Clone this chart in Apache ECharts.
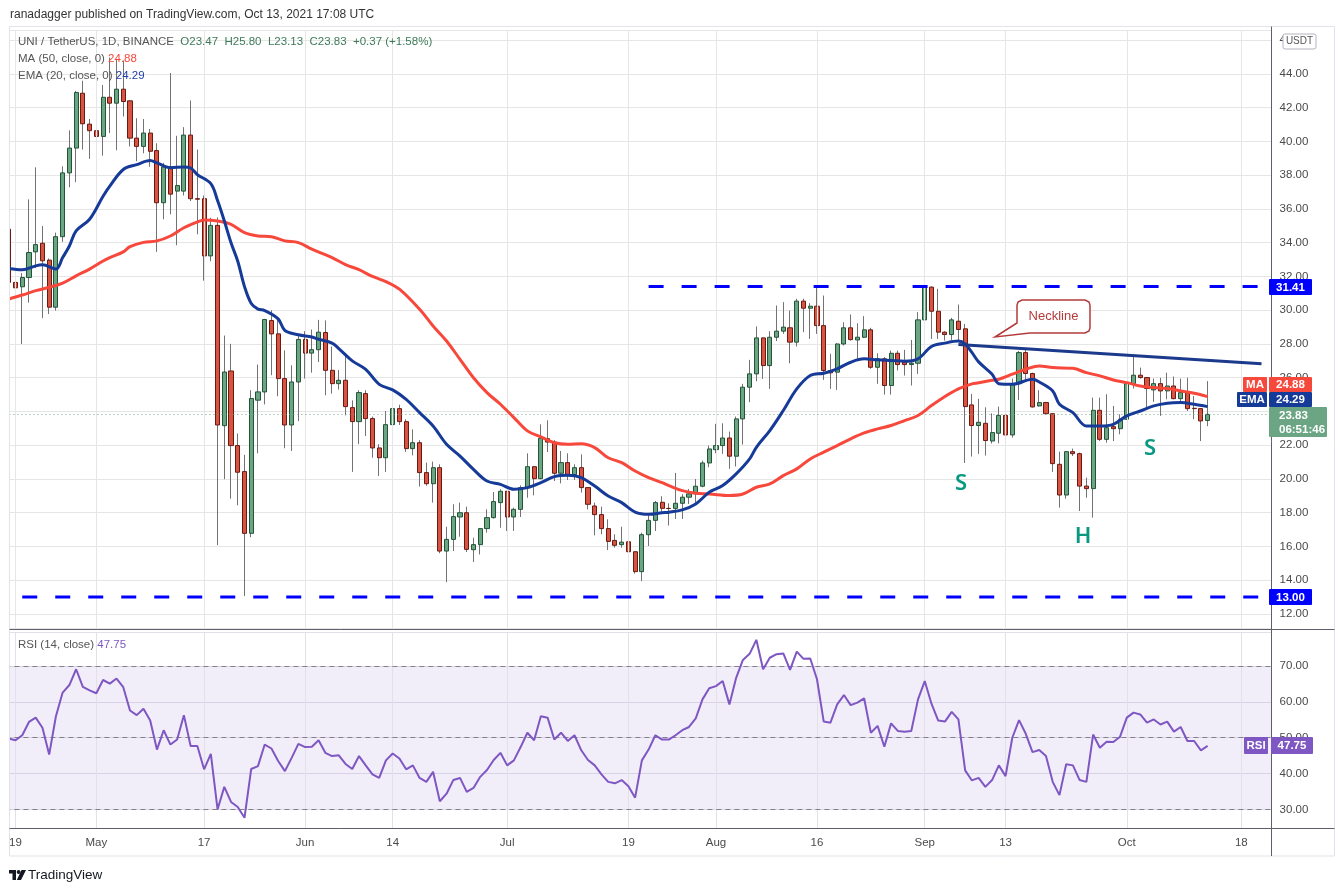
<!DOCTYPE html>
<html>
<head>
<meta charset="utf-8">
<title>UNI / TetherUS 1D</title>
<script src="https://cdn.jsdelivr.net/npm/echarts@6.0.0/dist/echarts.min.js"></script>
<style>
html, body { margin: 0; padding: 0; background: #fff; }
#chart { width: 1341px; height: 892px; }
</style>
</head>
<body>
<div id="chart"></div>
<script>
// daily candles from Apr 18 2021, [open, high, low, close]
var candles = [
    [34.80,35.30,30.50,31.65],[31.65,32.80,29.10,31.33],[31.39,32.20,28.00,31.94],[31.94,36.57,30.45,33.42],[33.46,38.47,32.50,33.89],
    [33.97,34.99,29.53,32.93],[32.97,33.07,29.78,30.18],[30.18,34.60,29.98,34.36],[34.36,38.53,34.05,38.14],[38.14,40.66,37.29,39.61],
    [39.61,43.00,37.59,42.90],[42.86,43.60,39.52,41.05],[41.03,41.33,38.97,40.64],[40.64,40.93,39.22,40.30],[40.30,43.35,39.16,42.62],
    [42.62,44.97,40.50,42.27],[42.27,44.90,39.48,43.10],[43.10,44.80,41.48,42.37],[42.41,42.43,39.71,40.20],[40.20,41.38,38.83,39.71],
    [39.71,41.33,39.30,40.50],[40.50,40.74,38.50,39.42],[39.46,39.90,33.46,36.37],[36.37,38.73,35.39,38.49],[38.49,44.06,35.68,36.88],
    [37.06,40.34,33.85,37.39],[37.06,40.85,36.80,40.38],[40.38,42.43,36.47,36.61],[36.61,39.52,34.50,36.58],[36.61,36.80,31.75,33.22],
    [33.22,35.48,32.90,35.03],[35.03,35.50,16.08,23.20],[23.16,28.50,19.99,26.34],[26.40,28.01,18.83,21.98],[21.98,22.70,18.44,20.40],
    [20.44,21.43,13.07,16.78],[16.78,25.26,16.55,24.77],[24.67,26.78,21.52,25.16],[25.16,29.49,24.42,29.45],[29.39,30.00,26.15,28.60],
    [28.60,29.49,24.90,25.95],[25.95,27.62,21.82,23.20],[23.20,26.74,21.66,25.75],[25.75,28.47,23.43,28.27],[28.27,28.76,25.95,27.46],
    [27.46,28.86,26.30,27.66],[27.66,29.43,26.93,28.70],[28.68,29.40,24.96,26.44],[26.44,27.85,25.06,25.65],[25.65,26.46,25.30,25.85],
    [25.85,27.39,23.77,24.29],[24.23,24.66,20.42,23.40],[23.40,25.26,22.06,25.12],[25.06,25.26,22.55,23.58],[23.58,23.70,21.26,21.84],
    [21.84,22.06,20.18,21.26],[21.26,24.03,20.42,23.22],[23.22,24.72,23.00,24.17],[24.17,24.40,23.20,23.40],[23.40,23.54,21.60,21.80],
    [21.80,22.94,21.40,22.15],[22.15,22.30,19.55,20.38],[20.38,20.97,19.60,19.72],[19.72,21.03,18.60,20.67],[20.67,20.87,15.60,15.73],
    [15.73,17.17,13.89,16.42],[16.42,18.50,15.73,17.77],[17.75,18.60,16.58,18.00],[18.00,18.36,15.67,15.83],[15.81,16.52,15.08,16.11],
    [16.11,17.10,15.53,17.06],[17.06,18.20,16.82,17.71],[17.71,19.23,17.65,18.66],[18.60,19.39,17.11,19.27],[19.27,19.30,16.92,17.75],
    [17.75,18.30,16.92,18.20],[18.20,19.62,17.75,19.49],[19.49,21.52,18.89,20.73],[20.73,20.77,19.03,20.02],[20.02,23.24,19.98,22.41],
    [22.39,23.48,21.60,22.19],[22.19,22.30,19.88,20.34],[20.34,21.66,19.74,20.97],[20.97,21.52,19.94,20.26],[20.26,20.87,19.94,20.67],
    [20.67,21.46,19.19,19.49],[19.49,19.50,18.20,18.50],[18.40,18.60,16.66,17.89],[17.89,18.36,16.72,17.06],[17.06,17.61,15.79,16.30],
    [16.36,16.72,15.93,16.07],[16.11,17.17,15.93,16.26],[16.28,16.78,15.63,15.69],[15.69,15.70,14.39,14.51],[14.51,16.82,13.95,16.70],
    [16.70,17.91,16.03,17.55],[17.55,18.70,16.92,18.60],[18.62,18.98,17.97,18.26],[18.26,18.56,17.24,18.25],[18.26,20.36,17.63,18.56],
    [18.56,19.10,17.63,18.92],[18.92,19.41,18.52,19.12],[19.12,20.00,18.52,19.57],[19.57,21.09,19.51,20.95],[20.95,21.98,20.70,21.78],
    [21.74,23.27,21.53,21.98],[21.98,23.30,21.49,22.43],[22.43,22.81,20.60,21.35],[21.35,23.70,20.74,23.56],[23.56,25.64,22.04,25.44],
    [25.44,27.06,24.55,26.23],[26.23,29.04,25.79,28.36],[28.36,28.40,25.93,26.72],[26.72,28.76,25.34,28.40],[28.40,30.28,28.17,28.76],
    [28.76,30.48,28.60,29.00],[28.96,29.98,26.86,28.11],[28.11,30.68,27.85,30.54],[30.54,30.68,28.70,30.12],[30.12,30.42,28.30,30.24],
    [30.24,31.37,28.60,29.09],[29.09,30.87,25.87,26.43],[26.43,27.42,25.34,26.29],[26.33,28.05,25.28,28.00],[28.00,29.29,27.91,28.96],
    [28.96,29.75,28.20,28.26],[28.24,29.23,27.12,28.40],[28.40,29.65,28.35,28.84],[28.84,28.96,26.53,26.62],[26.62,27.45,25.64,27.12],
    [27.12,27.22,25.00,25.54],[25.54,27.61,25.00,27.45],[27.45,27.61,26.43,26.78],[26.92,27.65,26.13,26.78],[26.78,28.24,25.54,26.86],
    [26.86,29.89,26.23,29.43],[29.43,31.47,28.70,31.41],[31.37,31.41,28.30,29.94],[29.94,31.27,28.30,28.70],[28.70,28.76,28.20,28.56],
    [28.56,29.55,28.24,29.43],[29.35,30.34,28.11,28.86],[28.90,29.19,20.95,24.29],[24.39,25.04,21.33,23.17],[23.17,24.75,21.49,23.36],
    [23.30,24.25,21.39,22.28],[22.25,23.89,22.10,22.75],[22.71,24.29,22.11,23.77],[23.77,23.80,21.36,22.61],[22.61,25.95,22.45,25.65],
    [25.65,27.59,24.68,27.49],[27.49,27.73,25.75,26.25],[26.25,26.30,24.23,24.27],[24.33,25.26,24.29,24.53],[24.53,24.57,23.83,23.87],
    [23.87,23.90,20.42,20.91],[20.87,21.62,18.30,19.05],[19.05,21.66,18.83,21.62],[21.62,21.80,21.36,21.50],[21.50,21.56,18.10,19.58],
    [19.58,20.08,18.89,19.43],[19.43,24.82,17.71,24.07],[24.07,24.82,22.25,22.35],[22.35,25.02,22.15,23.04],[23.10,24.33,22.25,22.98],
    [22.98,23.83,22.65,23.54],[23.54,25.71,23.50,25.65],[25.65,27.29,25.36,26.15],[26.15,26.60,25.95,26.01],[26.01,26.05,24.23,25.36],
    [25.28,25.95,24.57,25.65],[25.65,26.00,23.74,25.22],[25.22,26.30,24.72,25.51],[25.51,26.07,24.72,24.76],[24.76,25.95,24.62,25.12],
    [25.12,26.00,24.03,24.17],[24.19,24.92,23.54,24.17],[24.17,24.20,22.25,23.44],[23.47,25.80,23.13,23.83]
];

// MA 50 and EMA 20, [day index, value]
var maPts = [
    [0,30.67],[2,30.90],[4,31.16],[6,31.36],[8,31.61],[10,32.04],[12,32.44],[14,32.92],[15,33.12],[17,33.46],
    [18,33.77],[20,34.02],[22,34.11],[24,34.40],[26,34.89],[28,35.23],[29,35.35],[31,35.29],[33,35.09],[35,34.60],
    [37,34.40],[39,34.36],[41,34.11],[43,34.01],[45,33.62],[48,33.12],[50,32.70],[52,32.40],[54,32.00],[56,31.70],
    [58,31.25],[61,30.06],[63,29.07],[65,28.18],[67,27.09],[69,26.00],[71,25.12],[73,24.43],[75,23.64],[77,22.85],
    [79,22.49],[81,22.15],[83,22.06],[85,22.09],[87,21.86],[89,21.26],[91,20.97],[93,20.47],[95,20.08],[97,19.78],
    [98,19.61],[100,19.31],[102,19.15],[104,19.11],[107,19.02],[109,19.11],[111,19.51],[113,19.71],[115,20.20],[117,20.60],
    [119,21.19],[121,21.59],[123,21.98],[125,22.38],[127,22.73],[129,22.97],[131,23.17],[133,23.46],[135,23.76],[137,24.35],
    [139,24.89],[141,25.34],[143,25.64],[144,25.70],[146,25.85],[147,25.91],[149,26.21],[151,26.50],[153,26.70],[155,26.60],
    [158,26.56],[160,26.30],[162,26.11],[164,25.87],[166,25.71],[168,25.51],[170,25.42],[172,25.36],[174,25.22],[176,25.08],
    [178,24.88]
];
var emaPts = [
    [0,32.48],[2,32.40],[4,32.63],[5,32.69],[7,32.44],[8,33.12],[9,33.81],[10,34.70],[12,35.39],[14,36.75],
    [15,37.35],[17,38.34],[19,38.63],[21,38.87],[22,38.73],[24,38.45],[26,38.49],[27,38.43],[28,38.04],[30,37.50],
    [31,36.50],[32,35.30],[33,34.00],[34,32.90],[35,31.40],[36,30.40],[37,30.07],[38,29.98],[40,29.49],[41,28.80],
    [43,28.55],[45,28.41],[46,28.28],[48,28.05],[49,27.73],[51,27.00],[53,26.50],[55,25.61],[57,25.28],[59,24.72],
    [61,23.93],[63,23.14],[65,22.06],[67,21.36],[69,20.57],[71,19.88],[73,19.68],[75,19.39],[77,19.49],[79,19.78],
    [81,20.14],[83,20.22],[85,20.08],[87,19.58],[89,18.99],[91,18.60],[93,18.04],[95,17.91],[97,18.00],[98,18.03],
    [100,18.17],[102,18.52],[104,19.21],[106,19.61],[108,20.30],[110,21.19],[111,21.88],[113,22.87],[115,24.06],[117,25.34],
    [119,26.13],[121,26.27],[123,26.53],[125,26.92],[127,27.12],[129,27.06],[131,27.02],[133,26.98],[135,27.12],[137,27.85],
    [139,28.05],[141,28.17],[142,28.00],[143,27.50],[144,26.94],[146,26.21],[147,25.65],[149,25.61],[152,25.91],[153,25.75],
    [155,25.22],[156,24.43],[158,23.93],[160,23.14],[162,23.14],[164,23.24],[166,23.74],[168,24.03],[170,24.33],[172,24.49],
    [174,24.53],[176,24.43],[178,24.29]
];

// RSI 14, one value per day
var rsiVals = [
    49.8,49.3,50.7,54.4,55.6,52.8,45.3,56.0,62.6,64.7,
    69.1,64.2,63.2,62.4,66.1,65.1,66.5,64.1,57.6,56.3,
    58.1,54.8,46.7,52.1,48.1,49.5,56.3,47.7,47.7,41.2,
    45.5,30.0,36.3,32.1,30.7,27.7,41.3,42.1,48.1,47.0,
    43.5,40.7,44.4,48.3,47.4,47.5,49.3,45.8,44.9,45.1,
    42.7,41.3,44.9,42.3,39.8,38.8,43.7,45.6,44.2,41.2,
    42.3,38.8,37.7,40.5,32.3,34.4,38.2,38.8,34.9,36.0,
    39.1,41.0,43.8,45.8,42.3,43.7,47.4,51.4,49.3,56.0,
    55.6,49.5,51.4,49.1,50.7,46.5,43.8,42.3,39.8,37.7,
    37.3,38.2,36.5,33.3,43.7,46.7,50.7,49.5,49.5,50.7,
    52.1,53.0,55.4,60.7,63.8,64.4,65.8,59.3,66.7,71.7,
    73.4,77.3,69.1,72.3,73.3,73.5,68.9,74.0,72.0,72.1,
    66.3,54.5,54.2,59.3,61.9,59.1,59.8,61.0,51.4,53.3,
    47.5,54.0,51.9,51.7,51.9,60.7,65.8,59.5,54.8,54.5,
    57.2,55.1,40.9,38.1,38.8,36.3,38.2,42.3,39.3,50.0,
    54.9,51.1,46.0,46.6,44.9,37.7,34.0,42.6,42.3,38.2,
    37.7,50.9,47.2,48.9,48.8,50.3,55.6,57.0,56.5,54.2,
    55.1,53.7,54.5,51.7,53.0,49.1,49.1,46.5,47.75
];

// drawn levels: support, resistance and the neckline
var supportLine = [[2, 13.00], [186, 13.00]];
var resistLine = [[95, 31.41], [186, 31.41]];
var necklinePts = [[141, 27.97], [186, 26.83]];

// x axis ticks (day index -> text)
var tickIdx = [1, 13, 29, 44, 57, 74, 92, 105, 120, 136, 148, 166, 183];
var tickText = ['19', 'May', '17', 'Jun', '14', 'Jul', '19', 'Aug', '16', 'Sep', '13', 'Oct', '18'];

var NDAYS = 188;
var FONT = '"Liberation Sans", Arial, sans-serif';
var UP = '#6ba583', DOWN = '#d75442';

function m_onload() {
    var dates = [];
    var t0 = Date.UTC(2021, 3, 18);
    for (var i = 0; i < NDAYS; i++) {
        var d = new Date(t0 + i * 86400000);
        dates.push(d.toISOString().slice(0, 10));
    }
    var wicks = [];
    var bodies = [];
    for (var k = 0; k < candles.length; k++) {
        var c = candles[k];
        wicks.push([c[0], c[3], c[2], c[1]]);
        bodies.push([c[0], c[3], Math.min(c[0], c[3]), Math.max(c[0], c[3])]);
    }
    var vgrid = tickIdx.map(function (i) { return {xAxis: i}; });

    var chart = echarts.init(document.getElementById('chart'));
    var option = {
        animation: false,
        backgroundColor: '#fff',
        textStyle: {fontFamily: FONT},
        grid: [
            {left: 5.4, right: 69.4, top: 30, height: 598, containLabel: false, outerBoundsMode: 'none'},
            {left: 5.4, right: 69.4, top: 632, height: 196, containLabel: false, outerBoundsMode: 'none'}
        ],
        xAxis: [
            {
                type: 'category', gridIndex: 0, data: dates, boundaryGap: true,
                axisLine: {show: false}, axisTick: {show: false}, axisLabel: {show: false}, splitLine: {show: false}
            },
            {
                type: 'category', gridIndex: 1, data: dates, boundaryGap: true,
                axisLine: {show: false}, axisTick: {show: false}, splitLine: {show: false},
                axisLabel: {
                    margin: 9, color: '#4a4a4a', fontSize: 11.5, fontFamily: FONT,
                    interval: function (index) { return tickIdx.indexOf(index) >= 0; },
                    formatter: function (value, index) {
                        var j = tickIdx.indexOf(index);
                        return j >= 0 ? tickText[j] : '';
                    }
                }
            }
        ],
        yAxis: [
            {
                type: 'value', gridIndex: 0, position: 'right', min: 11.17, max: 46.607, splitNumber: 18,
                axisLine: {show: false}, axisTick: {show: false},
                axisLabel: {
                    margin: 8, color: '#4a4a4a', fontSize: 11.5, fontFamily: FONT,
                    showMinLabel: false, showMaxLabel: false,
                    formatter: function (v) { return v.toFixed(2); }
                },
                splitLine: {lineStyle: {color: '#e6e6e6', width: 1}}
            },
            {
                type: 'value', gridIndex: 1, position: 'right', min: 24.84, max: 79.48, splitNumber: 5,
                axisLine: {show: false}, axisTick: {show: false},
                axisLabel: {
                    margin: 8, color: '#4a4a4a', fontSize: 11.5, fontFamily: FONT,
                    showMinLabel: false, showMaxLabel: false,
                    formatter: function (v) { return v.toFixed(2); }
                },
                splitLine: {lineStyle: {color: '#e3e0ea', width: 1}}
            }
        ],
        series: [
            {
                // vertical grid lines, main pane
                type: 'line', xAxisIndex: 0, yAxisIndex: 0, data: [], z: 1, silent: true,
                markLine: {
                    silent: true, symbol: ['none', 'none'], label: {show: false},
                    lineStyle: {color: '#e6e6e6', width: 1, type: 'solid'}, data: vgrid
                }
            },
            {
                // vertical grid lines, rsi pane
                type: 'line', xAxisIndex: 1, yAxisIndex: 1, data: [], z: 1, silent: true,
                markLine: {
                    silent: true, symbol: ['none', 'none'], label: {show: false},
                    lineStyle: {color: '#e3e0ea', width: 1, type: 'solid'}, data: vgrid
                }
            },
            {
                name: 'wick', type: 'candlestick', xAxisIndex: 0, yAxisIndex: 0, data: wicks,
                barWidth: 0.2, z: 3, silent: true,
                itemStyle: {color: '#737375', color0: '#737375', borderColor: '#737375', borderColor0: '#737375', borderWidth: 1}
            },
            {
                name: 'UNI', type: 'candlestick', xAxisIndex: 0, yAxisIndex: 0, data: bodies,
                barWidth: 4.6, z: 4, silent: true,
                itemStyle: {color: UP, color0: DOWN, borderColor: '#225437', borderColor0: '#6b1a12', borderWidth: 1},
                markLine: {
                    silent: true, symbol: ['none', 'none'], label: {show: false},
                    lineStyle: {color: UP, width: 1, type: [1, 3]},
                    data: [{yAxis: 23.83}]
                }
            },
            {
                name: 'MA', type: 'line', xAxisIndex: 0, yAxisIndex: 0, data: maPts, smooth: 0.35,
                showSymbol: false, symbol: 'none', z: 5, silent: true,
                lineStyle: {color: '#f7483b', width: 3}
            },
            {
                name: 'EMA', type: 'line', xAxisIndex: 0, yAxisIndex: 0, data: emaPts, smooth: 0.35,
                showSymbol: false, symbol: 'none', z: 6, silent: true,
                lineStyle: {color: '#163a98', width: 3}
            },
            {
                name: 'support', type: 'line', xAxisIndex: 0, yAxisIndex: 0, data: supportLine,
                symbol: 'none', z: 7, silent: true,
                lineStyle: {color: '#0000ff', width: 3, type: [15, 18]}
            },
            {
                name: 'resistance', type: 'line', xAxisIndex: 0, yAxisIndex: 0, data: resistLine,
                symbol: 'none', z: 7, silent: true,
                lineStyle: {color: '#0000ff', width: 3, type: [15, 18]}
            },
            {
                name: 'neckline', type: 'line', xAxisIndex: 0, yAxisIndex: 0, data: necklinePts,
                symbol: 'none', z: 7, silent: true,
                lineStyle: {color: '#1b3a8c', width: 3}
            },
            {
                name: 'RSI', type: 'line', xAxisIndex: 1, yAxisIndex: 1, data: rsiVals,
                showSymbol: false, symbol: 'none', z: 5, silent: true,
                lineStyle: {color: '#7e57c2', width: 2},
                markArea: {
                    silent: true, itemStyle: {color: 'rgba(126,87,194,0.1)'},
                    data: [[{yAxis: 30}, {yAxis: 70}]]
                },
                markLine: {
                    silent: true, symbol: ['none', 'none'], label: {show: false},
                    lineStyle: {color: '#83808c', width: 1, type: [5, 4]},
                    data: [{yAxis: 70}, {yAxis: 50}, {yAxis: 30}]
                }
            }
        ],
        graphic: build_graphic()
    };
    chart.setOption(option);
}

function txt(x, y, s, font, fill, align, extra) {
    var st = {
        text: s, x: x, y: y, font: font, fill: fill,
        textAlign: align || 'left', textVerticalAlign: 'middle',
        align: align || 'left', verticalAlign: 'middle'
    };
    if (extra) { st.rich = extra; }
    return {type: 'text', z: 62, silent: true, style: st};
}

function tag(x, y, w, h, fill, s) {
    return [
        {type: 'rect', z: 60, silent: true, shape: {x: x, y: y, width: w, height: h, r: 1}, style: {fill: fill}},
        txt(x + w / 2, y + h / 2 + 0.5, s, 'bold 11.5px ' + FONT, '#fff', 'center')
    ];
}

function build_graphic() {
    var g = [];
    var f12 = '12px ' + FONT;
    var f115 = '11.5px ' + FONT;
    // cover the part of the first candle left of the pane
    g.push({type: 'rect', z: 45, silent: true, shape: {x: 0, y: 27, width: 9.5, height: 802}, style: {fill: '#fff'}});
    // frame and pane borders
    g.push({type: 'rect', z: 50, silent: true, shape: {x: 9.5, y: 26.5, width: 1325, height: 829.5}, style: {fill: 'none', stroke: '#e0e3eb', lineWidth: 1}});
    g.push({type: 'line', z: 51, silent: true, shape: {x1: 9.5, y1: 629.5, x2: 1334.5, y2: 629.5}, style: {stroke: '#5d606b', lineWidth: 1}});
    g.push({type: 'line', z: 51, silent: true, shape: {x1: 9.5, y1: 828.5, x2: 1334.5, y2: 828.5}, style: {stroke: '#5d606b', lineWidth: 1}});
    g.push({type: 'line', z: 51, silent: true, shape: {x1: 1271.5, y1: 26.5, x2: 1271.5, y2: 856}, style: {stroke: '#5d606b', lineWidth: 1}});

    // header and legends
    g.push(txt(10, 15, 'ranadagger published on TradingView.com, Oct 13, 2021 17:08 UTC', f12, '#333333'));
    g.push(txt(18, 42, '{g|UNI / TetherUS, 1D, BINANCE}  {v|O23.47}  {v|H25.80}  {v|L23.13}  {v|C23.83}  {v|+0.37 (+1.58%)}', f115, '#555',
        'left', {g: {fill: '#555555', font: f115}, v: {fill: '#3d7a5a', font: f115}}));
    g.push(txt(18, 59, '{g|MA (50, close, 0)} {r|24.88}', f115, '#555',
        'left', {g: {fill: '#555555', font: f115}, r: {fill: '#f7483b', font: f115}}));
    g.push(txt(18, 76, '{g|EMA (20, close, 0)} {b|24.29}', f115, '#555',
        'left', {g: {fill: '#555555', font: f115}, b: {fill: '#1c3fa8', font: f115}}));
    g.push(txt(18, 645, '{g|RSI (14, close)} {p|47.75}', f115, '#555',
        'left', {g: {fill: '#555555', font: f115}, p: {fill: '#7e57c2', font: f115}}));

    // price scale tags
    g.push({type: 'rect', z: 60, silent: true, shape: {x: 1283, y: 34, width: 33, height: 15, r: 2}, style: {fill: '#fff', stroke: '#b2b5be', lineWidth: 1}});
    g.push(txt(1299.5, 41.5, 'USDT', '10px ' + FONT, '#555', 'center'));
    g = g.concat(tag(1269, 279, 43, 16, '#0000ff', '31.41'));
    g = g.concat(tag(1243, 377, 24, 15, '#f7483b', 'MA'));
    g = g.concat(tag(1269, 377, 43, 15, '#f7483b', '24.88'));
    g = g.concat(tag(1237, 392, 30, 15, '#163a98', 'EMA'));
    g = g.concat(tag(1269, 392, 43, 15, '#163a98', '24.29'));
    g.push({type: 'rect', z: 60, silent: true, shape: {x: 1269, y: 407, width: 58, height: 30, r: 1}, style: {fill: UP}});
    g.push(txt(1279, 415.5, '23.83', 'bold 11.5px ' + FONT, '#fff', 'left'));
    g.push(txt(1279, 429.5, '06:51:46', 'bold 11.5px ' + FONT, '#fff', 'left'));
    g = g.concat(tag(1269, 589, 43, 16, '#0000ff', '13.00'));
    g = g.concat(tag(1244, 737, 24, 17, '#7e57c2', 'RSI'));
    g = g.concat(tag(1271, 737, 42, 17, '#7e57c2', '47.75'));

    // neckline callout
    g.push({
        type: 'polygon', z: 58, silent: true,
        shape: {points: [[1022, 300], [1085, 300], [1089, 302], [1090, 305], [1090, 328], [1089, 331], [1085, 333],
            [1030, 333], [995, 337], [1017, 323], [1017, 305], [1018, 302]]},
        style: {fill: '#fff', stroke: '#b33b3b', lineWidth: 1.5}
    });
    g.push(txt(1053.5, 316.5, 'Neckline', '13px ' + FONT, '#b33b3b', 'center'));

    // head and shoulders letters
    var hs = '600 22px "Noto Sans", ' + FONT;
    g.push(txt(961, 484, 'S', hs, '#089981', 'center'));
    g.push(txt(1083, 537, 'H', hs, '#089981', 'center'));
    g.push(txt(1150, 449, 'S', hs, '#089981', 'center'));

    // footer logo
    g.push({type: 'polygon', z: 62, silent: true, shape: {points: [[9, 870], [16, 870], [16, 880], [12.5, 880], [12.5, 873.5], [9, 873.5]]}, style: {fill: '#131722'}});
    g.push({type: 'circle', z: 62, silent: true, shape: {cx: 18.6, cy: 872, r: 1.9}, style: {fill: '#131722'}});
    g.push({type: 'polygon', z: 62, silent: true, shape: {points: [[21.5, 870], [26, 870], [21, 880], [16.8, 880]]}, style: {fill: '#131722'}});
    g.push(txt(28, 875.5, 'TradingView', '13.5px ' + FONT, '#131722', 'left'));
    return g;
}

m_onload();
</script>
</body>
</html>
